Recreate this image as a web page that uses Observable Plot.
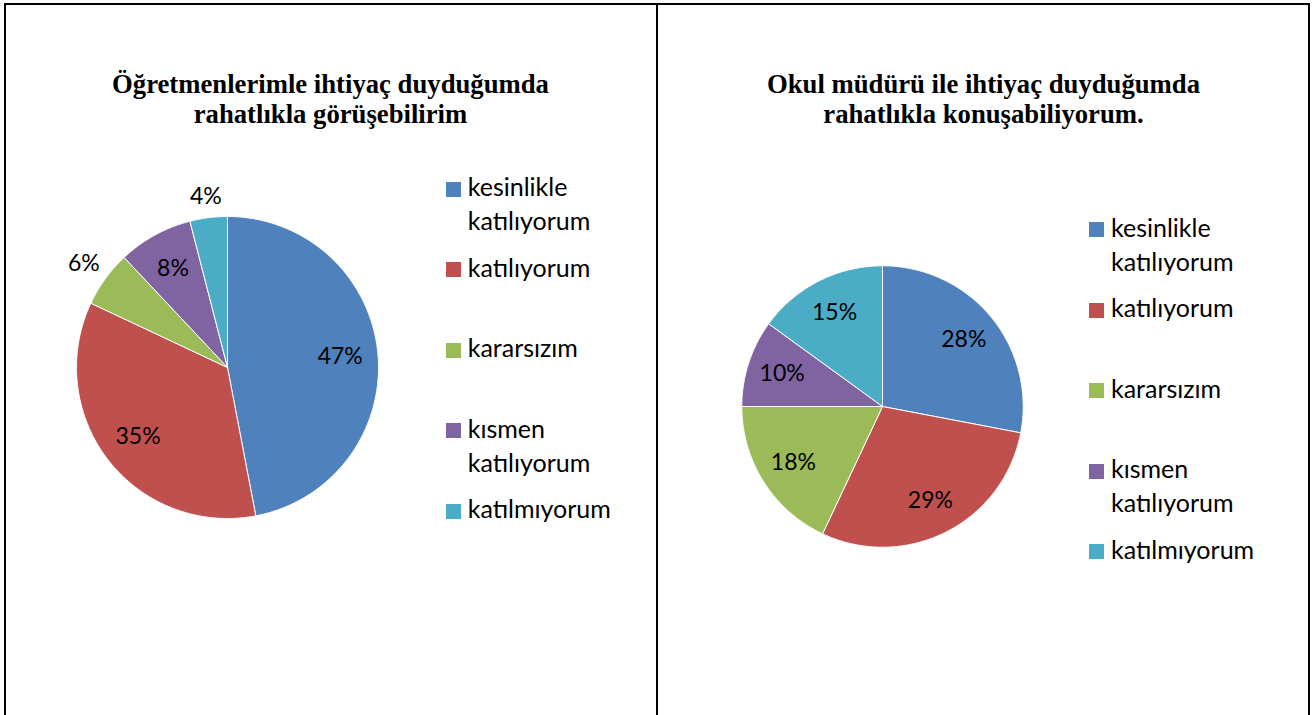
<!DOCTYPE html>
<html><head><meta charset="utf-8">
<script src="https://cdn.jsdelivr.net/npm/d3@7"></script>
<script src="https://cdn.jsdelivr.net/npm/@observablehq/plot@0.6"></script>
<style>
body{margin:0;background:#fff;width:1312px;height:715px;overflow:hidden;position:relative;font-family:Lato,sans-serif;}
.frame{position:absolute;top:3px;left:4px;width:1306px;height:740px;border:2.5px solid #000;border-bottom:none;box-sizing:border-box}
.divider{position:absolute;top:3px;left:655.5px;width:2.5px;height:740px;background:#000}
.title{position:absolute;top:68.5px;font-family:"Liberation Serif",serif;font-weight:bold;font-size:26.7px;line-height:30px;text-align:center;color:#000}
.legend{position:absolute;font-size:25px;color:#000}
.item{position:absolute;left:0;white-space:nowrap}
.sw{position:absolute;left:0;top:12.4px;width:15px;height:15px}
.lbl{position:absolute;left:21.7px;top:0;line-height:34px}
.pie{position:absolute}
</style></head><body>
<div class="frame"></div>
<div class="divider"></div>
<div id="t1" class="title" style="left:5px;width:651px"></div>
<div id="t2" class="title" style="left:658px;width:651px"></div>
<div id="lg1" class="legend" style="left:446px;top:169.3px"></div>
<div id="lg2" class="legend" style="left:1089.3px;top:210px"></div>
<div id="p1" class="pie" style="left:26.7px;top:166.5px"></div>
<div id="p2" class="pie" style="left:681.7px;top:206px"></div>
<script>
const categories = ["kesinlikle katılıyorum","katılıyorum","kararsızım","kısmen katılıyorum","katılmıyorum"];
const legendLines = [["kesinlikle","katılıyorum"],["katılıyorum"],["kararsızım"],["kısmen","katılıyorum"],["katılmıyorum"]];
const colors = ["#4F81BD","#C0504D","#9BBB59","#8064A2","#4BACC6"];
const values1 = [47,35,6,8,4];
const values2 = [28,29,18,10,15];
const title1 = ["Öğretmenlerimle ihtiyaç duyduğumda","rahatlıkla görüşebilirim"];
const title2 = ["Okul müdürü ile ihtiyaç duyduğumda","rahatlıkla konuşabiliyorum."];

function setTitle(id, lines){ document.getElementById(id).innerHTML = lines.join("<br>"); }
setTitle("t1", title1); setTitle("t2", title2);

function legend(id, step){
  const el = document.getElementById(id);
  legendLines.forEach((lines,i)=>{
    const it = document.createElement("div"); it.className="item"; it.style.top=(i*step)+"px";
    const sw = document.createElement("div"); sw.className="sw"; sw.style.background=colors[i];
    const lb = document.createElement("div"); lb.className="lbl"; lb.innerHTML=lines.join("<br>");
    it.appendChild(sw); it.appendChild(lb); el.appendChild(it);
  });
}
legend("lg1", 80.5); legend("lg2", 80.4);

function pie(id, values, rpx){
  const size = 400, k = size/2/rpx, fs = 23;
  const total = d3.sum(values);
  const slices = []; const labels = [];
  let acc = 0;
  values.forEach((v,i)=>{
    const a0 = acc/total*2*Math.PI, a1 = (acc+v)/total*2*Math.PI; acc += v;
    const n = Math.max(2, Math.ceil((a1-a0)/(Math.PI/360)));
    slices.push({cat:categories[i], x:0, y:0});
    for(let j=0;j<=n;j++){ const a=a0+(a1-a0)*j/n; slices.push({cat:categories[i], x:Math.sin(a), y:Math.cos(a)}); }
    slices.push({cat:categories[i], x:0, y:0});
    const am = (a0+a1)/2, s=Math.sin(am), c=Math.cos(am);
    const txt = Math.round(v/total*100)+"%";
    let rr;
    if (v/total < 0.07){
      const hw = txt.length*0.29*fs, hh = 0.42*fs;
      rr = (rpx + 10 + Math.abs(s)*hw + Math.abs(c)*hh)/rpx;
    } else rr = 0.75;
    labels.push({x:s*rr, y:c*rr, text:txt});
  });
  const chart = Plot.plot({
    width:size, height:size, margin:0,
    style:{fontFamily:"Lato, sans-serif", background:"transparent", overflow:"visible"},
    x:{domain:[-k,k], axis:null}, y:{domain:[-k,k], axis:null},
    color:{domain:categories, range:colors},
    marks:[
      Plot.line(slices, {x:"x", y:"y", z:"cat", fill:"cat", stroke:"white", strokeWidth:1, strokeLinejoin:"round", curve:"linear"}),
      Plot.text(labels, {x:"x", y:"y", text:"text", fontSize:fs, fill:"#000"})
    ]
  });
  document.getElementById(id).appendChild(chart);
}
pie("p1", values1, 151);
pie("p2", values2, 140.7);
</script>
</body></html>
